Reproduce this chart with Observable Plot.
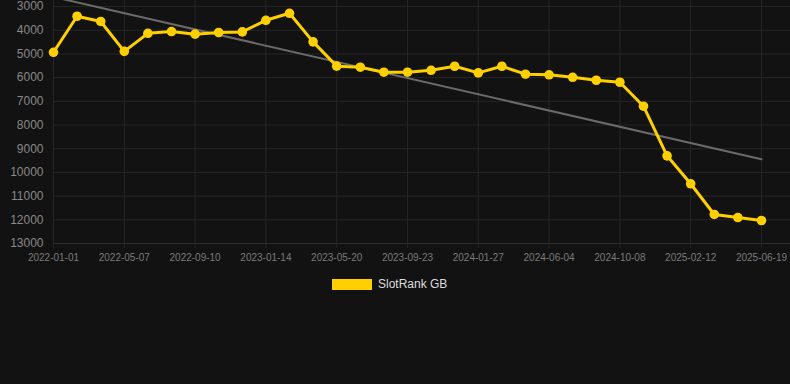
<!DOCTYPE html>
<html>
<head>
<meta charset="utf-8">
<script src="https://cdn.jsdelivr.net/npm/d3@7"></script>
<script src="https://cdn.jsdelivr.net/npm/@observablehq/plot@0.6"></script>
<style>
  html, body { margin: 0; padding: 0; background: #121212; }
  body { width: 790px; height: 384px; overflow: hidden; font-family: "Liberation Sans", Arial, sans-serif; }
  #legend { display: flex; justify-content: flex-start; align-items: center; height: 16px; margin-top: 6px; padding-left: 332px; }
  #legend .sw { width: 40px; height: 11px; background: #FFD000; margin-right: 6px; }
  #legend .lb { color: #dddddd; font-size: 12px; }
</style>
</head>
<body>
<div id="chart"></div>
<div id="legend"><span class="sw"></span><span class="lb">SlotRank GB</span></div>
<script>
const seriesName = "SlotRank GB";
const tickLabels = ["2022-01-01","2022-05-07","2022-09-10","2023-01-14","2023-05-20","2023-09-23","2024-01-27","2024-06-04","2024-10-08","2025-02-12","2025-06-19"];
const rank = [4930, 3410, 3630, 4890, 4130, 4055, 4165, 4095, 4070, 3580, 3285, 4490, 5515, 5560, 5770, 5770, 5690, 5520, 5800, 5520, 5855, 5880, 5985, 6110, 6195, 7205, 9300, 10480, 11775, 11905, 12030];
const yTicks = [3000, 4000, 5000, 6000, 7000, 8000, 9000, 10000, 11000, 12000, 13000];

const data = rank.map((r, i) => ({i, rank: r}));
const tickIdx = tickLabels.map((_, k) => k * 3);

const gridColor = "#262626";
const chart = Plot.plot({
  width: 790,
  height: 270,
  marginTop: 0,
  marginBottom: 27,
  marginLeft: 53,
  marginRight: 0,
  style: { background: "#121212", fontFamily: "'Liberation Sans', Arial, sans-serif", overflow: "visible" },
  x: { domain: [0, 31.23], ticks: tickIdx, tickFormat: k => tickLabels[k / 3] },
  y: { domain: [2745, 13000], reverse: true, ticks: yTicks, tickFormat: d => String(d) },
  marks: [
    Plot.gridY(yTicks, { stroke: gridColor, strokeOpacity: 1, strokeWidth: 1 }),
    Plot.gridX(tickIdx, { stroke: gridColor, strokeOpacity: 1, strokeWidth: 1 }),
    Plot.ruleY([13000], { stroke: "#2e2e2e" }),
    Plot.axisX(tickIdx, { tickFormat: k => tickLabels[k / 3], tickSize: 5, tickPadding: 5, stroke: gridColor, fill: "#7a7a7a", fontSize: 10, label: null }),
    Plot.axisY(yTicks, { tickFormat: d => String(d), tickSize: 0, tickPadding: 10, fill: "#888888", fontSize: 12, label: null }),
    Plot.linearRegressionY(data, { x: "i", y: "rank", ci: 0, stroke: "#6a6a6a", strokeWidth: 2, clip: true }),
    Plot.line(data, { x: "i", y: "rank", stroke: "#FFD000", strokeWidth: 3 }),
    Plot.dot(data, { x: "i", y: "rank", r: 4.8, fill: "#FFD000", stroke: "none" })
  ]
});
document.getElementById("chart").appendChild(chart);
</script>
</body>
</html>
